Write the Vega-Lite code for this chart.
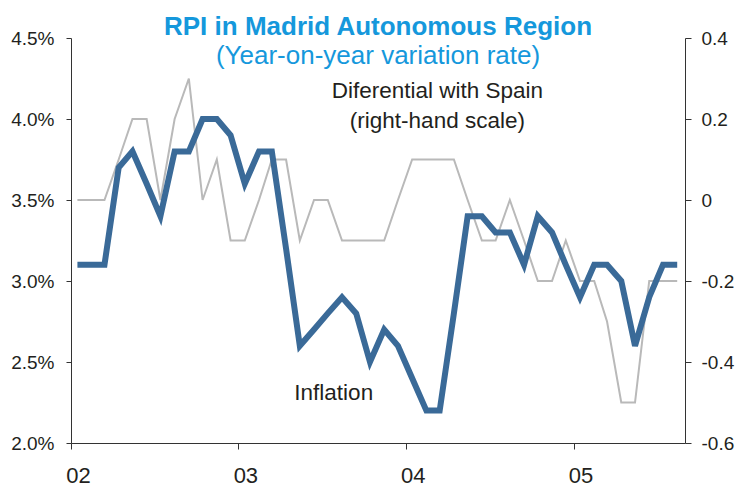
{
  "$schema": "https://vega.github.io/schema/vega-lite/v6.json",
  "width": 614,
  "height": 405,
  "autosize": {"type": "none"},
  "padding": {"left": 71, "top": 38, "right": 52, "bottom": 44},
  "background": "white",
  "config": {
    "view": {"stroke": null},
    "font": "Liberation Sans",
    "axis": {
      "labelFont": "Liberation Sans",
      "labelFontSize": 19,
      "labelColor": "#231f20",
      "domainColor": "#333333",
      "tickColor": "#333333",
      "grid": false,
      "title": null
    }
  },
  "title": {
    "text": "RPI in Madrid Autonomous Region",
    "subtitle": "(Year-on-year variation rate)",
    "anchor": "middle",
    "font": "Liberation Sans",
    "fontSize": 26,
    "fontWeight": "bold",
    "color": "#1598dc",
    "subtitleFont": "Liberation Sans",
    "subtitleFontSize": 26,
    "subtitleColor": "#1598dc",
    "subtitlePadding": 3,
    "offset": -40
  },
  "datasets": {
    "series": [
      {"date": "2002-01-15", "inflation": 3.1, "differential": 0.0},
      {"date": "2002-02-15", "inflation": 3.1, "differential": 0.0},
      {"date": "2002-03-15", "inflation": 3.1, "differential": 0.0},
      {"date": "2002-04-15", "inflation": 3.7, "differential": 0.1},
      {"date": "2002-05-15", "inflation": 3.8, "differential": 0.2},
      {"date": "2002-06-15", "inflation": 3.6, "differential": 0.2},
      {"date": "2002-07-15", "inflation": 3.4, "differential": 0.0},
      {"date": "2002-08-15", "inflation": 3.8, "differential": 0.2},
      {"date": "2002-09-15", "inflation": 3.8, "differential": 0.3},
      {"date": "2002-10-15", "inflation": 4.0, "differential": 0.0},
      {"date": "2002-11-15", "inflation": 4.0, "differential": 0.1},
      {"date": "2002-12-15", "inflation": 3.9, "differential": -0.1},
      {"date": "2003-01-15", "inflation": 3.6, "differential": -0.1},
      {"date": "2003-02-15", "inflation": 3.8, "differential": 0.0},
      {"date": "2003-03-15", "inflation": 3.8, "differential": 0.1},
      {"date": "2003-04-15", "inflation": 3.2, "differential": 0.1},
      {"date": "2003-05-15", "inflation": 2.6, "differential": -0.1},
      {"date": "2003-06-15", "inflation": 2.7, "differential": 0.0},
      {"date": "2003-07-15", "inflation": 2.8, "differential": 0.0},
      {"date": "2003-08-15", "inflation": 2.9, "differential": -0.1},
      {"date": "2003-09-15", "inflation": 2.8, "differential": -0.1},
      {"date": "2003-10-15", "inflation": 2.5, "differential": -0.1},
      {"date": "2003-11-15", "inflation": 2.7, "differential": -0.1},
      {"date": "2003-12-15", "inflation": 2.6, "differential": 0.0},
      {"date": "2004-01-15", "inflation": 2.4, "differential": 0.1},
      {"date": "2004-02-15", "inflation": 2.2, "differential": 0.1},
      {"date": "2004-03-15", "inflation": 2.2, "differential": 0.1},
      {"date": "2004-04-15", "inflation": 2.8, "differential": 0.1},
      {"date": "2004-05-15", "inflation": 3.4, "differential": 0.0},
      {"date": "2004-06-15", "inflation": 3.4, "differential": -0.1},
      {"date": "2004-07-15", "inflation": 3.3, "differential": -0.1},
      {"date": "2004-08-15", "inflation": 3.3, "differential": 0.0},
      {"date": "2004-09-15", "inflation": 3.1, "differential": -0.1},
      {"date": "2004-10-15", "inflation": 3.4, "differential": -0.2},
      {"date": "2004-11-15", "inflation": 3.3, "differential": -0.2},
      {"date": "2004-12-15", "inflation": 3.1, "differential": -0.1},
      {"date": "2005-01-15", "inflation": 2.9, "differential": -0.2},
      {"date": "2005-02-15", "inflation": 3.1, "differential": -0.2},
      {"date": "2005-03-15", "inflation": 3.1, "differential": -0.3},
      {"date": "2005-04-15", "inflation": 3.0, "differential": -0.5},
      {"date": "2005-05-15", "inflation": 2.6, "differential": -0.5},
      {"date": "2005-06-15", "inflation": 2.9, "differential": -0.2},
      {"date": "2005-07-15", "inflation": 3.1, "differential": -0.2},
      {"date": "2005-08-15", "inflation": 3.1, "differential": -0.2}
    ],
    "notes": [
      {"label": "Diferential with Spain", "date": "2004-03-10", "level": 4.17},
      {"label": "(right-hand scale)", "date": "2004-03-10", "level": 3.99},
      {"label": "Inflation", "date": "2003-07-28", "level": 2.31}
    ]
  },
  "layer": [
    {
      "data": {"name": "series"},
      "mark": {"type": "line", "color": "#b9b9b9", "strokeWidth": 2, "strokeJoin": "miter"},
      "encoding": {
        "x": {
          "field": "date",
          "type": "temporal",
          "scale": {"domain": [{"year": 2002, "month": 1, "date": 1}, {"year": 2005, "month": 9, "date": 1}]},
          "axis": {
            "values": [
              {"year": 2002, "month": 1, "date": 1},
              {"year": 2003, "month": 1, "date": 1},
              {"year": 2004, "month": 1, "date": 1},
              {"year": 2005, "month": 1, "date": 1}
            ],
            "format": "%y",
            "tickSize": 6,
            "labelPadding": 16,
            "labelFontSize": 22,
            "labelOffset": 7,
            "labelAlign": "center",
            "title": null
          }
        },
        "y": {
          "field": "differential",
          "type": "quantitative",
          "scale": {"domain": [-0.6, 0.4], "nice": false, "zero": false},
          "axis": {
            "orient": "right",
            "values": [-0.6, -0.4, -0.2, 0, 0.2, 0.4],
            "labelExpr": "datum.value == 0 ? '0' : (datum.value < 0 ? '-' : '') + format(abs(datum.value), '.1f')",
            "tickSize": 6,
            "labelPadding": 10,
            "title": null
          }
        }
      }
    },
    {
      "layer": [
        {
          "data": {"name": "series"},
          "mark": {"type": "line", "color": "#3a6a98", "strokeWidth": 6, "strokeJoin": "miter"},
          "encoding": {
            "x": {"field": "date", "type": "temporal"},
            "y": {
              "field": "inflation",
              "type": "quantitative",
              "scale": {"domain": [2.0, 4.5], "nice": false, "zero": false},
              "axis": {
                "orient": "left",
                "values": [2.0, 2.5, 3.0, 3.5, 4.0, 4.5],
                "labelExpr": "format(datum.value, '.1f') + '%'",
                "tickSize": 5,
                "labelPadding": 12,
                "title": null
              }
            }
          }
        },
        {
          "data": {"name": "notes"},
          "mark": {"type": "text", "font": "Liberation Sans", "fontSize": 22.5, "color": "#231f20", "align": "center", "baseline": "middle"},
          "encoding": {
            "x": {"field": "date", "type": "temporal"},
            "y": {"field": "level", "type": "quantitative"},
            "text": {"field": "label"}
          }
        }
      ]
    }
  ],
  "resolve": {"scale": {"y": "independent"}}
}
